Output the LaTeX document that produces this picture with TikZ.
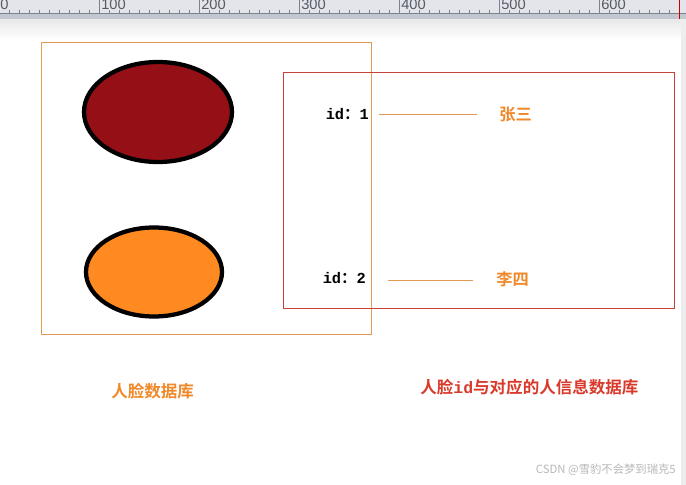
\documentclass[tikz,border=0pt]{standalone}
\usepackage{fontspec}
\setmainfont{Liberation Sans}
\newfontfamily\cjk{Noto Sans CJK SC}[BoldFont={Noto Sans CJK SC Bold}]
\newfontfamily\monob{Liberation Mono}
\usetikzlibrary{shapes.geometric}
\definecolor{boxorange}{HTML}{E39A55}
\definecolor{boxred}{HTML}{C8403A}
\definecolor{txtorange}{HTML}{F0892A}
\definecolor{txtred}{HTML}{D93A2B}
\definecolor{darkred}{HTML}{950F17}
\definecolor{lightorange}{HTML}{FF8A22}
\definecolor{rulerbg}{HTML}{E3E5EA}
\definecolor{rulerband}{HTML}{C3C7CF}
\definecolor{rulertick}{HTML}{7C828C}
\definecolor{rulertext}{HTML}{555A64}
\tikzset{
  idtext/.style={inner sep=0pt, font=\monob\bfseries\fontsize{11.5}{13}\selectfont, text=black},
  nametext/.style={inner sep=0pt, font=\cjk\bfseries\fontsize{12.2}{14}\selectfont, text=txtorange},
  blob/.style={ellipse, draw=black, line width=3.2pt, inner sep=0pt},
  link/.style={draw=boxorange, line width=0.7pt},
}
\begin{document}
\begin{tikzpicture}[x=0.75pt,y=-0.75pt]
\useasboundingbox (0,0) rectangle (686,485);
% background
\fill[white] (0,0) rectangle (686,485);
\shade[top color=black!9, bottom color=white] (0,19) rectangle (686,40);
\fill[black!7] (681,19) rectangle (686,485);
% ruler
\fill[rulerbg] (0,0) rectangle (686,14);
\fill[rulerband] (0,14) rectangle (686,19);
\draw[rulertick, line width=0.75pt] (0,14) -- (686,14);
\foreach \k in {0,...,68} {
  \draw[rulertick, line width=0.6pt] ({-1+10*\k},10.5) -- ({-1+10*\k},14);
}
\foreach \k in {0,...,6} {
  \draw[rulertick, line width=0.6pt] ({-1+100*\k},0) -- ({-1+100*\k},14);
}
\node[anchor=base west, inner sep=0pt, font=\fontsize{11}{12}\selectfont, text=rulertext] (r0) at (0,10) {0};
\foreach \k in {1,...,6} {
  \node[anchor=base west, inner sep=0pt, font=\fontsize{11}{12}\selectfont, text=rulertext] (r\k) at ({100*\k+1},10) {\k00};
}
\draw[red!80!black, line width=0.75pt] (679,0) -- (679,19);
% boxes
\draw[boxorange, line width=0.6pt] (41,42) rectangle (371,334);
\draw[boxred, line width=0.6pt] (283,72) rectangle (674,308);
% ellipses
\node[blob, fill=darkred, minimum width=148*0.75pt, minimum height=100*0.75pt] (e1) at (158,112) {};
\node[blob, fill=lightorange, minimum width=136*0.75pt, minimum height=89*0.75pt] (e2) at (154,272) {};
% ids
\node[idtext, anchor=east] (id1) at (369,114) {id{\cjk ：}1};
\node[idtext, anchor=east] (id2) at (366,278) {id{\cjk ：}2};
\node[nametext, anchor=west] (zs) at (499,114) {张三};
\node[nametext, anchor=west] (ls) at (496,279) {李四};
\draw[link, shorten <=7.5pt, shorten >=16.5pt] (id1.east) -- (zs.west);
\draw[link, shorten <=16.5pt, shorten >=17pt] ([yshift=-1.5pt]id2.east) -- ([yshift=-0.75pt]ls.west);
% captions
\node[inner sep=0pt, anchor=west, font=\cjk\bfseries\fontsize{12.4}{14}\selectfont, text=txtorange] (cap1) at (111,391) {人脸数据库};
\node[inner sep=0pt, anchor=west, font=\cjk\bfseries\fontsize{12.4}{14}\selectfont, text=txtred] (cap2) at (420,387) {人脸{\monob id}与对应的人信息数据库};
% watermark
\node[inner sep=0pt, anchor=east, font=\cjk\fontsize{8.5}{10}\selectfont, text=black!28] (wm) at (676,470) {CSDN @雪豹不会梦到瑞克5};
\end{tikzpicture}
\end{document}
